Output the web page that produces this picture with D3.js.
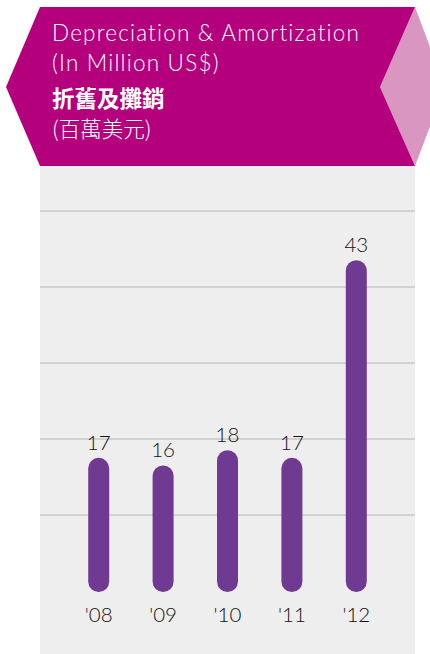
<!DOCTYPE html>
<html><head><meta charset="utf-8">
<script src="https://cdn.jsdelivr.net/npm/d3@7/dist/d3.min.js"></script>
<style>html,body{margin:0;padding:0;background:#fff;}svg{display:block;}</style>
</head><body>
<script>
const categories = ["'08", "'09", "'10", "'11", "'12"];
const values = [17, 16, 18, 17, 43];
const gridTicks = [10, 20, 30, 40, 50];
const titleEn = ["Depreciation & Amortization", "(In Million US$)"];
const titleZh = ["折舊及攤銷", "(百萬美元)"];

const W = 430, H = 654;
const svg = d3.select("body").append("svg").attr("width", W).attr("height", H);

// header shapes
svg.append("polygon").attr("points", "415,7 445,87 415,166 380,87").attr("fill", "#d896c0");
svg.append("polygon").attr("points", "40,7 415,7 380,87 415,166 40,166 6,87").attr("fill", "#b5007e");

// panel
svg.append("rect").attr("x", 40).attr("y", 166).attr("width", 375).attr("height", H - 166).attr("fill", "#eeeeee");

const enFont = "Lato, 'Open Sans', sans-serif";
const zhFont = "'Noto Sans CJK TC', 'Noto Sans CJK SC', sans-serif";
svg.append("text").attr("x", 52).attr("y", 41).attr("fill", "#fff").attr("font-family", enFont)
  .attr("font-weight", 300).attr("font-size", 22.5).attr("letter-spacing", 1.2).text(titleEn[0]);
svg.append("text").attr("x", 52).attr("y", 71).attr("fill", "#fff").attr("font-family", enFont)
  .attr("font-weight", 300).attr("font-size", 22.5).attr("letter-spacing", 1.2).text(titleEn[1]);
svg.append("text").attr("x", 52).attr("y", 107).attr("fill", "#fff").attr("font-family", zhFont)
  .attr("font-weight", 700).attr("font-size", 22.5).text(titleZh[0]);
svg.append("text").attr("x", 52).attr("y", 137).attr("fill", "#fff").attr("font-family", zhFont)
  .attr("font-weight", 300).attr("font-size", 21.5).text(titleZh[1]);

const x = d3.scalePoint().domain(categories).range([98.7, 356.3]);
const y = d3.scaleLinear().domain([0, 50]).range([591, 211]);

svg.append("g").selectAll("line").data(gridTicks).join("line")
  .attr("x1", 40).attr("x2", 415).attr("y1", d => y(d)).attr("y2", d => y(d))
  .attr("stroke", "#b5b5b5").attr("stroke-width", 1.2);

const bw = 21, ext = 4;
const data = categories.map((c, i) => ({c, v: values[i]}));
svg.append("g").selectAll("rect").data(data).join("rect")
  .attr("x", d => x(d.c) - bw / 2).attr("width", bw)
  .attr("y", d => y(d.v) - ext).attr("height", d => y(0) + 1 - (y(d.v) - ext))
  .attr("rx", bw / 2).attr("fill", "#6f3a91");

svg.append("g").selectAll("text").data(data).join("text")
  .attr("x", d => x(d.c)).attr("y", d => y(d.v) - ext - 8)
  .attr("text-anchor", "middle").attr("font-family", enFont).attr("font-weight", 300)
  .attr("font-size", 20.5).attr("fill", "#111").text(d => d.v);

svg.append("g").selectAll("text").data(data).join("text")
  .attr("x", d => x(d.c)).attr("y", 622)
  .attr("text-anchor", "middle").attr("font-family", enFont).attr("font-weight", 300)
  .attr("font-size", 20.5).attr("fill", "#111").text(d => d.c);
</script>
</body></html>
